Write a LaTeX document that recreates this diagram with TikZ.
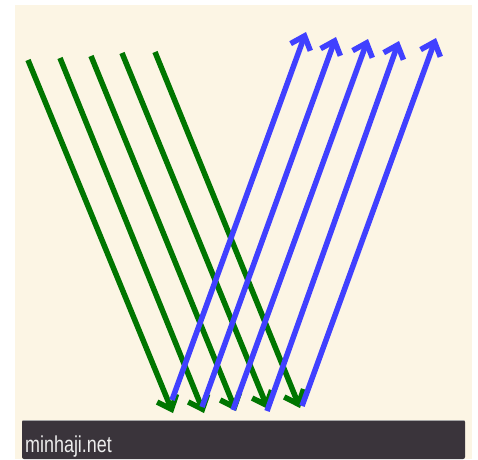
\documentclass[tikz,border=0pt]{standalone}
\usepackage{fontspec}
\setmainfont{Liberation Sans}
\usetikzlibrary{arrows.meta}
\definecolor{paper}{RGB}{252,245,228}
\definecolor{rayin}{RGB}{0,118,0}
\definecolor{rayout}{RGB}{64,64,255}
\definecolor{barcol}{RGB}{58,52,59}
\begin{document}
\begin{tikzpicture}[x=1pt,y=-1pt,
        in-ray/.style={draw=rayin,line width=5.5pt,-{Straight Barb[length=12pt,width=21pt,line width=5.5pt]}},
        out-ray/.style={draw=rayout,line width=5.5pt,-{Straight Barb[length=12pt,width=21pt,line width=5.5pt]}},
        site-label/.style={text=white!85!gray,font=\fontsize{23}{23}\selectfont,xscale=0.78,anchor=south west,inner sep=0pt},
    ]
        \useasboundingbox (0,0) rectangle (478,459);
        \fill[paper] (15,5) rectangle (472,459);
        % incoming rays
        \coordinate (g1s) at (28,60);
        \coordinate (g2s) at (60,58);
        \coordinate (g3s) at (91,56);
        \coordinate (g4s) at (122,53);
        \coordinate (g5s) at (155,52);
        \coordinate (g1e) at (173,413);
        \coordinate (g2e) at (204,413);
        \coordinate (g3e) at (236,411);
        \coordinate (g4e) at (268,409);
        \coordinate (g5e) at (300,408);
        % reflected rays
        \coordinate (b1s) at (172,400);
        \coordinate (b2s) at (202,407);
        \coordinate (b3s) at (233,410);
        \coordinate (b4s) at (267,411);
        \coordinate (b5s) at (302,406);
        \coordinate (b1e) at (306,32);
        \coordinate (b2e) at (336,37);
        \coordinate (b3e) at (368,39);
        \coordinate (b4e) at (399,41);
        \coordinate (b5e) at (436,38);
        \draw[in-ray] (g1s) -- (g1e);
        \draw[in-ray] (g2s) -- (g2e);
        \draw[in-ray] (g3s) -- (g3e);
        \draw[in-ray] (g4s) -- (g4e);
        \draw[in-ray] (g5s) -- (g5e);
        \draw[out-ray] (b1s) -- (b1e);
        \draw[out-ray] (b2s) -- (b2e);
        \draw[out-ray] (b3s) -- (b3e);
        \draw[out-ray] (b4s) -- (b4e);
        \draw[out-ray] (b5s) -- (b5e);
        % caption bar
        \fill[barcol,rounded corners=2pt] (22,459) -- (22,420) -- (465,420) -- (465,459) -- cycle;
        \draw[gray!70,line width=0.8pt] (23,420) -- (464,420);
        \node[site-label] (site) at (25,457) {minhaji.net};
\end{tikzpicture}
\end{document}
